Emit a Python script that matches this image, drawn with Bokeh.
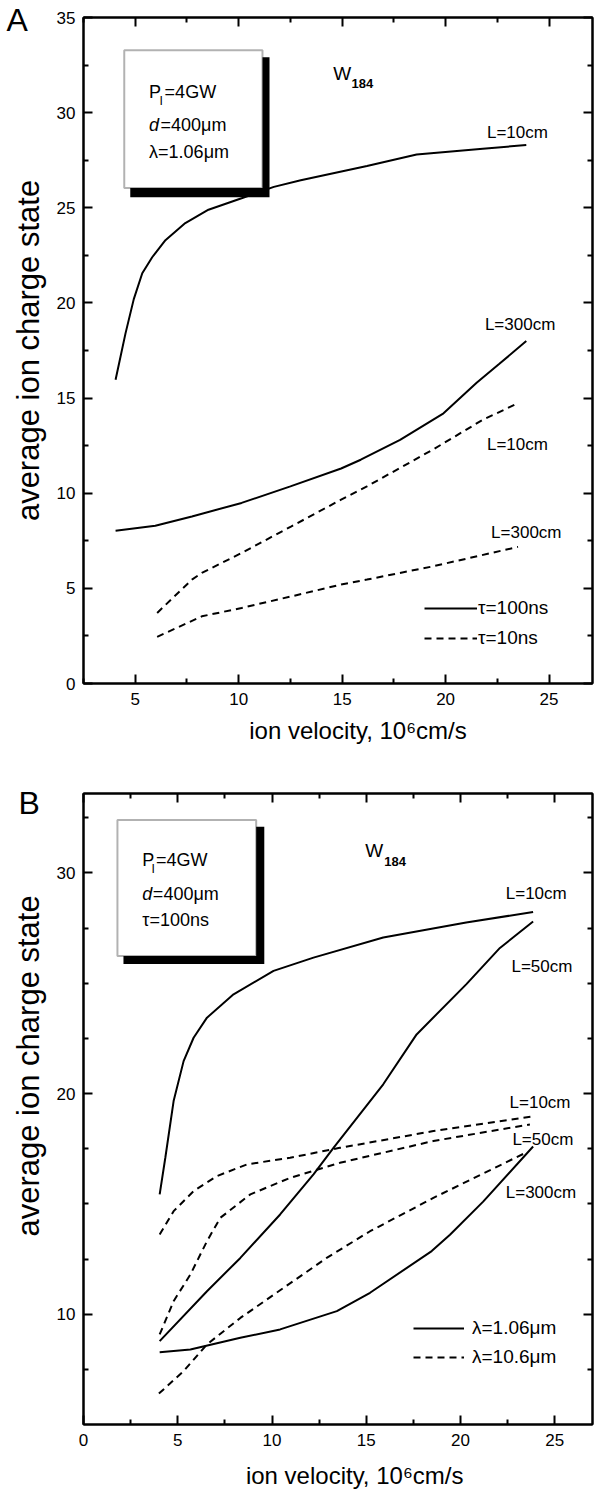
from bokeh.plotting import figure
from bokeh.models import (Label, BoxAnnotation, LinearAxis, Legend, LegendItem,
                          FixedTicker, Range1d)
from bokeh.layouts import column
from bokeh.embed import file_html
from bokeh.resources import INLINE

FONT = "Liberation Sans"
NB = "\u00a0"

# ---------------- Panel A data (ion velocity 1e6 cm/s, average charge) ----------------
a_v_tau100_L10 = [4.05, 4.53, 4.93, 5.34, 5.82, 6.46, 7.42, 8.54, 10.14, 11.7, 13.0, 16.2, 18.6, 21.8, 23.9]
a_q_tau100_L10 = [15.96, 18.4, 20.2, 21.56, 22.4, 23.3, 24.2, 24.9, 25.5, 26.1, 26.45, 27.2, 27.8, 28.1, 28.3]

a_v_tau100_L300 = [4.05, 5.97, 7.74, 10.14, 12.5, 14.95, 15.9, 17.8, 19.9, 21.5, 22.6, 23.9]
a_q_tau100_L300 = [8.03, 8.29, 8.78, 9.49, 10.36, 11.3, 11.76, 12.8, 14.2, 15.8, 16.8, 18.0]

a_v_tau10_L10 = [6.06, 7.74, 8.22, 10.14, 12.55, 14.95, 16.2, 19.4, 21.8, 23.5]
a_q_tau10_L10 = [3.71, 5.46, 5.81, 6.86, 8.26, 9.66, 10.36, 12.3, 13.86, 14.73]

a_v_tau10_L300 = [6.06, 8.22, 10.14, 12.55, 14.95, 16.2, 19.4, 23.5]
a_q_tau10_L300 = [2.45, 3.53, 3.97, 4.58, 5.2, 5.46, 6.16, 7.18]

# ---------------- Panel B data ----------------
b_v_106_L10 = [4.04, 4.34, 4.78, 5.31, 5.84, 6.55, 7.96, 10.08, 12.2, 15.9, 20.3, 23.85]
b_q_106_L10 = [15.43, 17.09, 19.66, 21.47, 22.53, 23.44, 24.5, 25.56, 26.16, 27.07, 27.75, 28.23]

b_v_106_L50 = [4.04, 6.55, 8.32, 10.43, 12.2, 13.26, 15.9, 17.67, 20.3, 22.09, 23.85]
b_q_106_L50 = [8.78, 11.04, 12.55, 14.52, 16.34, 17.54, 20.42, 22.68, 24.95, 26.6, 27.8]

b_v_106_L300 = [4.04, 5.67, 8.32, 10.43, 13.44, 15.2, 18.47, 19.44, 21.2, 23.85]
b_q_106_L300 = [8.28, 8.4, 8.93, 9.31, 10.14, 10.97, 12.86, 13.6, 15.1, 17.6]

b_v_106_10_L10 = [4.04, 4.78, 5.84, 7.08, 8.67, 10.96, 13.6, 18.56, 23.94]
b_q_106_10_L10 = [13.61, 14.67, 15.58, 16.26, 16.79, 17.09, 17.54, 18.3, 18.98]

b_v_106_10_L50 = [4.04, 4.78, 5.67, 6.55, 7.26, 8.85, 10.96, 13.6, 18.56, 23.68]
b_q_106_10_L50 = [9.08, 10.59, 11.8, 13.31, 14.37, 15.43, 16.18, 16.86, 17.85, 18.6]

b_v_106_10_L300 = [4.0, 5.31, 6.55, 8.32, 10.61, 12.9, 15.2, 18.56, 23.41]
b_q_106_10_L300 = [6.4, 7.42, 8.63, 9.83, 11.19, 12.55, 13.76, 15.27, 17.3]

# tick values
a_xticks = [5, 10, 15, 20, 25]
a_xminor = [2.5, 7.5, 12.5, 17.5, 22.5]
a_yticks = [0, 5, 10, 15, 20, 25, 30, 35]
a_yminor = [2.5, 7.5, 12.5, 17.5, 22.5, 27.5, 32.5]
b_xticks = [0, 5, 10, 15, 20, 25]
b_xminor = [2.5, 7.5, 12.5, 17.5, 22.5]
b_yticks = [10, 20, 30]
b_yminor = [7.5, 12.5, 15, 17.5, 22.5, 25, 27.5, 32.5]

XLABEL = "ion velocity, 10\u2076cm/s"
YLABEL = "average ion charge state"


def style_axis(ax, ticks, minor, show_labels=True, label=None, label_size="24px"):
    ax.ticker = FixedTicker(ticks=ticks, minor_ticks=minor)
    ax.axis_line_width = 2
    ax.axis_line_color = "black"
    ax.major_tick_in = 9
    ax.major_tick_out = 0
    ax.minor_tick_in = 5
    ax.minor_tick_out = 0
    ax.major_tick_line_width = 2
    ax.minor_tick_line_width = 2
    ax.major_tick_line_color = "black"
    ax.minor_tick_line_color = "black"
    if show_labels:
        ax.major_label_text_font = FONT
        ax.major_label_text_font_size = "17px"
        ax.major_label_text_color = "black"
    else:
        ax.major_label_text_font_size = "1px"
        ax.major_label_text_color = None
        ax.major_label_standoff = 0
    if label:
        ax.axis_label = label
        ax.axis_label_text_font = FONT
        ax.axis_label_text_font_size = label_size
        ax.axis_label_text_font_style = "normal"
        ax.axis_label_text_color = "black"


def make_fig(height, xr, yr, mb_left, mb_top, mb_bottom, xt, xm, yt, ym, xlab, ylab,
             letter, letter_offset, letter_standoff, xlab_standoff):
    p = figure(width=594, height=height, x_range=Range1d(*xr), y_range=Range1d(*yr),
               output_backend="svg", toolbar_location=None,
               min_border_left=mb_left, min_border_right=2,
               min_border_top=mb_top, min_border_bottom=mb_bottom,
               title=letter, title_location="above")
    p.title.text_font = FONT
    p.title.text_font_size = "32px"
    p.title.text_font_style = "normal"
    p.title.text_color = "black"
    p.title.align = "left"
    p.title.offset = letter_offset
    p.title.standoff = letter_standoff
    p.grid.visible = False
    p.outline_line_color = "black"
    p.outline_line_width = 2
    style_axis(p.xaxis[0], xt, xm, True, xlab, "24px")
    p.xaxis[0].major_label_standoff = 9
    p.xaxis[0].axis_label_standoff = xlab_standoff
    style_axis(p.yaxis[0], yt, ym, True, ylab, "31px")
    p.yaxis[0].major_label_standoff = 8
    p.yaxis[0].axis_label_standoff = 8
    top = LinearAxis()
    style_axis(top, xt, xm, False)
    p.add_layout(top, "above")
    right = LinearAxis()
    style_axis(right, yt, ym, False)
    p.add_layout(right, "right")
    return p


def txt(p, x, y, s, size="16px", align="left", style="normal"):
    p.add_layout(Label(x=x, y=y, text=s, text_font=FONT, text_font_size=size,
                       text_align=align, text_baseline="middle",
                       text_font_style=style, text_color="black"))


def info_box(p, l, r, t, b, sl, sr, st, sb):
    p.add_layout(BoxAnnotation(left=sl, right=sr, top=st, bottom=sb,
                               fill_color="black", fill_alpha=1, line_alpha=0))
    p.add_layout(BoxAnnotation(left=l, right=r, top=t, bottom=b,
                               fill_color="white", fill_alpha=1,
                               line_color="black", line_width=2))


# ================= Panel A =================
pa = make_fig(746, (2.5, 27.1), (0, 35), 81, 17, 62, a_xticks, a_xminor, a_yticks, a_yminor,
              NB * 6 + XLABEL, YLABEL, "A", -77, -40, 9)

ra1 = pa.line(a_v_tau100_L10, a_q_tau100_L10, line_color="black", line_width=2)
ra2 = pa.line(a_v_tau100_L300, a_q_tau100_L300, line_color="black", line_width=2)
ra3 = pa.line(a_v_tau10_L10, a_q_tau10_L10, line_color="black", line_width=2, line_dash="7 5")
ra4 = pa.line(a_v_tau10_L300, a_q_tau10_L300, line_color="black", line_width=2, line_dash="7 5")

info_box(pa, 4.47, 11.15, 33.28, 26.04, 4.76, 11.49, 32.91, 25.56)
txt(pa, 5.67, 31.08, "P", "18px")
txt(pa, 6.18, 30.62, "l", "13px")
txt(pa, 6.42, 31.08, "=4GW", "18px")
txt(pa, 5.67, 29.35, "d", "18px", style="italic")
txt(pa, 6.22, 29.35, "=400\u03bcm", "18px")
txt(pa, 5.67, 27.93, "\u03bb=1.06\u03bcm", "18px")

txt(pa, 14.57, 32.07, "W", "19px")
txt(pa, 15.45, 31.55, "184", "13px", style="bold")

txt(pa, 22.0, 28.98, "L=10cm", "17px")
txt(pa, 21.9, 18.85, "L=300cm", "17px")
txt(pa, 22.0, 12.55, "L=10cm", "17px")
txt(pa, 22.2, 7.93, "L=300cm", "17px")

lega = Legend(items=[LegendItem(label="\u03c4=100ns", renderers=[ra1]),
                     LegendItem(label="\u03c4=10ns", renderers=[ra3])],
              location=(341, 34), border_line_alpha=0, background_fill_alpha=0,
              padding=0, margin=0, spacing=8, glyph_width=53, glyph_height=20,
              label_height=20, label_standoff=1, label_text_font=FONT,
              label_text_font_size="19px", label_text_color="black")
pa.add_layout(lega)

# ================= Panel B =================
pb = make_fig(750, (0, 27), (5, 33.6), 83, 47, 72, b_xticks, b_xminor, b_yticks, b_yminor,
              NB * 5 + XLABEL, NB * 10 + YLABEL, "B", -65, -55, 13)

rb1 = pb.line(b_v_106_L10, b_q_106_L10, line_color="black", line_width=2)
pb.line(b_v_106_L50, b_q_106_L50, line_color="black", line_width=2)
pb.line(b_v_106_L300, b_q_106_L300, line_color="black", line_width=2)
rb4 = pb.line(b_v_106_10_L10, b_q_106_10_L10, line_color="black", line_width=2, line_dash="7 5")
pb.line(b_v_106_10_L50, b_q_106_10_L50, line_color="black", line_width=2, line_dash="7 5")
pb.line(b_v_106_10_L300, b_q_106_10_L300, line_color="black", line_width=2, line_dash="7 5")

info_box(pb, 1.80, 9.16, 32.4, 26.24, 2.12, 9.59, 32.09, 25.87)
txt(pb, 3.12, 30.6, "P", "18px")
txt(pb, 3.62, 30.2, "l", "13px")
txt(pb, 3.85, 30.6, "=4GW", "18px")
txt(pb, 3.12, 29.05, "d", "18px", style="italic")
txt(pb, 3.68, 29.05, "=400\u03bcm", "18px")
txt(pb, 3.12, 27.85, "\u03c4=100ns", "18px")

txt(pb, 14.94, 31.0, "W", "19px")
txt(pb, 15.95, 30.5, "184", "13px", style="bold")

txt(pb, 22.4, 29.05, "L=10cm", "17px")
txt(pb, 22.7, 25.78, "L=50cm", "17px")
txt(pb, 22.6, 19.61, "L=10cm", "17px")
txt(pb, 22.75, 17.94, "L=50cm", "17px")
txt(pb, 22.4, 15.53, "L=300cm", "17px")

legb = Legend(items=[LegendItem(label="\u03bb=1.06\u03bcm", renderers=[rb1]),
                     LegendItem(label="\u03bb=10.6\u03bcm", renderers=[rb4])],
              location=(330, 56), border_line_alpha=0, background_fill_alpha=0,
              padding=0, margin=0, spacing=7, glyph_width=51, glyph_height=20,
              label_height=20, label_standoff=8, label_text_font=FONT,
              label_text_font_size="19px", label_text_color="black")
pb.add_layout(legb)

layout = column(pa, pb, spacing=0)
open("out.html", "w").write(file_html(layout, INLINE))
